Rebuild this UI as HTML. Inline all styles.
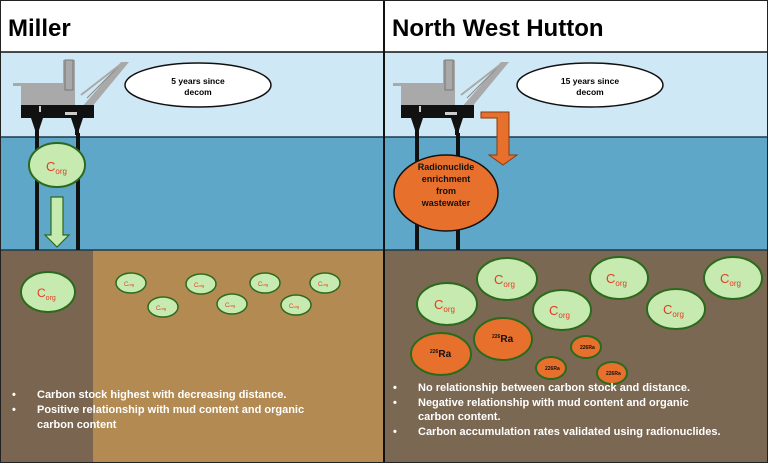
<html><head><style>body{margin:0}svg{display:block}</style></head><body>
<svg width="768" height="463" viewBox="0 0 768 463" xmlns="http://www.w3.org/2000/svg" font-family="Liberation Sans, Arial, sans-serif">
<defs>
<g id="rig">
<rect x="0" y="33" width="54" height="22" fill="#a9a9a9"/>
<rect x="-8" y="33" width="30" height="3" fill="#a9a9a9"/>
<rect x="22" y="40" width="20" height="6" fill="#a9a9a9"/>
<rect x="42" y="10" width="12" height="45" fill="#a9a9a9"/>
<path d="M44 10 L52 10 L52 40 L44 40Z" fill="none" stroke="#777" stroke-width="1"/>
<path d="M60 58 L100 12 L108 12 L70 58Z" fill="#a9a9a9"/>
<line x1="66" y1="48" x2="100" y2="14" stroke="#888" stroke-width="1"/>
<line x1="60" y1="45" x2="100" y2="14" stroke="#a9a9a9" stroke-width="2"/>
<rect x="0" y="55" width="73" height="13" fill="#111"/>
<rect x="18" y="56" width="2" height="6" fill="#ccc"/>
<rect x="44" y="62" width="12" height="3" fill="#ccc"/>
<path d="M10 68 L22 68 L18 80 L18 85 L14 85 L14 80Z" fill="#111"/>
<path d="M50 68 L62 68 L58 80 L58 85 L54 85 L54 80Z" fill="#111"/>
</g>
</defs>
<rect width="768" height="463" fill="#fff"/>
<!-- sky, sea -->
<rect x="0" y="52" width="768" height="85" fill="#cfe8f5"/>
<rect x="0" y="137" width="768" height="113" fill="#5ea7c8"/>
<line x1="0" y1="137" x2="768" y2="137" stroke="#1e3a4a" stroke-width="1.5"/>
<!-- seabed -->
<rect x="0" y="250" width="93" height="213" fill="#7a6650"/>
<rect x="93" y="250" width="291" height="213" fill="#b38a52"/>
<rect x="384" y="250" width="384" height="213" fill="#7b6852"/>
<line x1="0" y1="250" x2="768" y2="250" stroke="#1e3a4a" stroke-width="1.5"/>
<line x1="0" y1="52" x2="768" y2="52" stroke="#111" stroke-width="1.5"/>
<line x1="384" y1="0" x2="384" y2="463" stroke="#111" stroke-width="2"/>
<rect x="0.5" y="0.5" width="767" height="462" fill="none" stroke="#222" stroke-width="1"/>
<text x="8" y="36" font-size="24" font-weight="bold" fill="#000">Miller</text>
<text x="392" y="36" font-size="24" font-weight="bold" fill="#000">North West Hutton</text>
<!-- Miller -->
<rect x="35" y="133" width="4" height="117" fill="#111"/>
<rect x="76" y="133" width="4" height="117" fill="#111"/>
<use href="#rig" x="21" y="50"/>
<ellipse cx="198" cy="85" rx="73" ry="22" fill="#fff" stroke="#111" stroke-width="1.5"/>
<text x="198" y="84" font-size="8.5" font-weight="bold" text-anchor="middle">5 years since</text>
<text x="198" y="95" font-size="8.5" font-weight="bold" text-anchor="middle">decom</text>
<ellipse cx="57" cy="165" rx="28" ry="22" fill="#c7eab1" stroke="#2b6a1c" stroke-width="2"/>
<text x="46" y="171" font-size="13" fill="#e53b24">C<tspan font-size="8" dy="3">org</tspan></text>
<path d="M51 197 L63 197 L63 235 L69 235 L57 247 L45 235 L51 235Z" fill="#c7eab1" stroke="#2b6a1c" stroke-width="1.2"/>
<ellipse cx="48" cy="292" rx="27" ry="20" fill="#c7eab1" stroke="#2b6a1c" stroke-width="2"/>
<text x="37" y="297" font-size="12" fill="#e53b24">C<tspan font-size="7" dy="3">org</tspan></text>
<g fill="#c7eab1" stroke="#2b6a1c" stroke-width="1.5">
<ellipse cx="131" cy="283" rx="15" ry="10"/><ellipse cx="163" cy="307" rx="15" ry="10"/><ellipse cx="201" cy="284" rx="15" ry="10"/><ellipse cx="232" cy="304" rx="15" ry="10"/><ellipse cx="265" cy="283" rx="15" ry="10"/><ellipse cx="296" cy="305" rx="15" ry="10"/><ellipse cx="325" cy="283" rx="15" ry="10"/>
</g>
<g font-size="6" fill="#e53b24">
<text x="124" y="286">C<tspan font-size="4">org</tspan></text><text x="156" y="310">C<tspan font-size="4">org</tspan></text><text x="194" y="287">C<tspan font-size="4">org</tspan></text><text x="225" y="307">C<tspan font-size="4">org</tspan></text><text x="258" y="286">C<tspan font-size="4">org</tspan></text><text x="289" y="308">C<tspan font-size="4">org</tspan></text><text x="318" y="286">C<tspan font-size="4">org</tspan></text>
</g>
<g font-size="11" font-weight="bold" fill="#fff">
<text x="12" y="398">•</text><text x="37" y="398">Carbon stock highest with decreasing distance.</text>
<text x="12" y="413">•</text><text x="37" y="413">Positive relationship with mud content and organic</text>
<text x="37" y="428">carbon content</text>
</g>
<!-- NWH -->
<rect x="415" y="133" width="4" height="117" fill="#111"/>
<rect x="456" y="133" width="4" height="117" fill="#111"/>
<use href="#rig" x="401" y="50"/>
<ellipse cx="590" cy="85" rx="73" ry="22" fill="#fff" stroke="#111" stroke-width="1.5"/>
<text x="590" y="84" font-size="8.5" font-weight="bold" text-anchor="middle">15  years since</text>
<text x="590" y="95" font-size="8.5" font-weight="bold" text-anchor="middle">decom</text>
<path d="M481 112 L509 112 L509 155 L517 155 L503 165 L489 155 L497 155 L497 118 L481 118Z" fill="#e8702d" stroke="#8a3a10" stroke-width="1"/>
<ellipse cx="446" cy="193" rx="52" ry="38" fill="#e8702d" stroke="#111" stroke-width="1.5"/>
<g font-size="9" font-weight="bold" text-anchor="middle" fill="#111">
<text x="446" y="170">Radionuclide</text><text x="446" y="182">enrichment</text><text x="446" y="194">from</text><text x="446" y="206">wastewater</text>
</g>
<g fill="#c7eab1" stroke="#2b6a1c" stroke-width="2">
<ellipse cx="447" cy="304" rx="30" ry="21"/><ellipse cx="507" cy="279" rx="30" ry="21"/><ellipse cx="562" cy="310" rx="29" ry="20"/><ellipse cx="619" cy="278" rx="29" ry="21"/><ellipse cx="676" cy="309" rx="29" ry="20"/><ellipse cx="733" cy="278" rx="29" ry="21"/>
</g>
<g font-size="13" fill="#e53b24">
<text x="434" y="309">C<tspan font-size="8" dy="3">org</tspan></text><text x="494" y="284">C<tspan font-size="8" dy="3">org</tspan></text><text x="549" y="315">C<tspan font-size="8" dy="3">org</tspan></text><text x="606" y="283">C<tspan font-size="8" dy="3">org</tspan></text><text x="663" y="314">C<tspan font-size="8" dy="3">org</tspan></text><text x="720" y="283">C<tspan font-size="8" dy="3">org</tspan></text>
</g>
<g fill="#e8702d" stroke="#2b6a1c" stroke-width="2">
<ellipse cx="441" cy="354" rx="30" ry="21"/><ellipse cx="503" cy="339" rx="29" ry="21"/>
<ellipse cx="551" cy="368" rx="15" ry="11"/><ellipse cx="586" cy="347" rx="15" ry="11"/><ellipse cx="612" cy="373" rx="15" ry="11"/>
</g>
<g font-weight="bold" fill="#111">
<text x="430" y="357" font-size="10"><tspan font-size="5" dy="-4">226</tspan><tspan dy="4">Ra</tspan></text>
<text x="492" y="342" font-size="10"><tspan font-size="5" dy="-4">226</tspan><tspan dy="4">Ra</tspan></text>
<text x="545" y="370" font-size="5">226Ra</text><text x="580" y="349" font-size="5">226Ra</text><text x="606" y="375" font-size="5">226Ra</text>
</g>
<g font-size="11" font-weight="bold" fill="#fff">
<text x="393" y="391">•</text><text x="418" y="391">No relationship between carbon stock and distance.</text>
<text x="393" y="406">•</text><text x="418" y="406">Negative relationship with mud content and organic</text>
<text x="418" y="420">carbon content.</text>
<text x="393" y="435">•</text><text x="418" y="435">Carbon accumulation rates validated using radionuclides.</text>
</g>
</svg>
</body></html>
